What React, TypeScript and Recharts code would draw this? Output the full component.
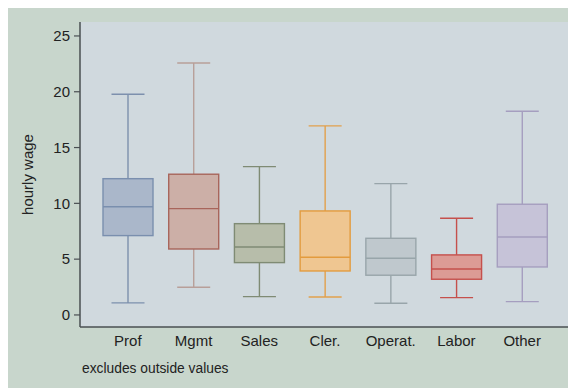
import React from 'react';
import { ComposedChart, Bar, XAxis, YAxis, CartesianGrid } from 'recharts';

const categories = ['Prof', 'Mgmt', 'Sales', 'Cler.', 'Operat.', 'Labor', 'Other'];
const lowerWhisker = [1.08, 2.48, 1.64, 1.61, 1.05, 1.55, 1.19];
const q1 = [7.11, 5.91, 4.69, 3.94, 3.56, 3.2, 4.3];
const median = [9.7, 9.53, 6.09, 5.17, 5.08, 4.12, 6.99];
const q3 = [12.21, 12.61, 8.18, 9.32, 6.87, 5.38, 9.92];
const upperWhisker = [19.78, 22.58, 13.29, 16.94, 11.77, 8.66, 18.25];
const yTicks = [0, 5, 10, 15, 20, 25];

const boxFills = ['#aab7ca', '#ccafa7', '#b7bdaa', '#efc691', '#bfc8cd', '#dc9b95', '#c6c3d8'];
const boxStrokes = ['#7a8fae', '#a8655b', '#7f8b74', '#e39b3e', '#98a5aa', '#c5504c', '#a59ebf'];
const whiskerStrokes = ['#7d90ad', '#b89f99', '#7f8b74', '#e2a04c', '#98a5aa', '#c5504c', '#a59ebf'];

const FONT = '"Liberation Sans", Arial, Helvetica, sans-serif';

const data = categories.map((c, i) => ({
  cat: c,
  range: [lowerWhisker[i], upperWhisker[i]],
  q1: q1[i],
  median: median[i],
  q3: q3[i],
  idx: i,
}));

const BoxShape = (props: any) => {
  const { x, y, width, height, payload } = props;
  if (!payload) return null;
  const lo = payload.range[0];
  const hi = payload.range[1];
  const ppu = height / (hi - lo);
  const toY = (v: number) => y + (hi - v) * ppu;
  const i = payload.idx;
  const cx = x + width / 2;
  const cap = 33;
  const yQ1 = toY(payload.q1);
  const yQ3 = toY(payload.q3);
  const yMed = toY(payload.median);
  const ws = whiskerStrokes[i];
  const bs = boxStrokes[i];
  return (
    <g>
      <line x1={cx} x2={cx} y1={y} y2={yQ3} stroke={ws} strokeWidth={1.4} />
      <line x1={cx} x2={cx} y1={yQ1} y2={y + height} stroke={ws} strokeWidth={1.4} />
      <line x1={cx - cap / 2} x2={cx + cap / 2} y1={y} y2={y} stroke={ws} strokeWidth={1.4} />
      <line x1={cx - cap / 2} x2={cx + cap / 2} y1={y + height} y2={y + height} stroke={ws} strokeWidth={1.4} />
      <rect x={x} y={yQ3} width={width} height={yQ1 - yQ3} fill={boxFills[i]} stroke={bs} strokeWidth={1.4} />
      <line x1={x} x2={x + width} y1={yMed} y2={yMed} stroke={bs} strokeWidth={1.4} />
    </g>
  );
};

export default function App() {
  return (
    <div style={{ width: 568, height: 380, background: '#c8d6cc' }}>
      <ComposedChart
        width={568}
        height={380}
        data={data}
        margin={{ top: 14, right: 6, bottom: 31, left: 0 }}
      >
        <CartesianGrid fill="#d0d9de" stroke="none" horizontal={false} vertical={false} />
        <XAxis
          dataKey="cat"
          type="category"
          height={30}
          padding={{ left: 15, right: 15 }}
          tickLine={false}
          tickSize={0}
          tickMargin={8}
          axisLine={{ stroke: '#4a4f52', strokeWidth: 1.5 }}
          tick={{ fill: '#222', fontSize: 15, fontFamily: FONT }}
          interval={0}
          label={{
            content: () => (
              <text x={74} y={365} fontSize={13.8} fontFamily={FONT} fill="#222">
                excludes outside values
              </text>
            ),
          }}
        />
        <YAxis
          type="number"
          width={72}
          domain={[-1.08, 26.25]}
          ticks={yTicks}
          allowDataOverflow
          tickSize={6}
          tickMargin={4}
          tickLine={{ stroke: '#4a4f52', strokeWidth: 1.2 }}
          axisLine={{ stroke: '#4a4f52', strokeWidth: 1.5 }}
          tick={{ fill: '#222', fontSize: 15, fontFamily: FONT }}
          label={{
            content: () => (
              <text
                x={25}
                y={166.5}
                transform="rotate(-90 25 166.5)"
                textAnchor="middle"
                fontSize={15}
                fontFamily={FONT}
                fill="#222"
              >
                hourly wage
              </text>
            ),
          }}
        />
        <Bar dataKey="range" barSize={50} shape={BoxShape} isAnimationActive={false} />
      </ComposedChart>
    </div>
  );
}
